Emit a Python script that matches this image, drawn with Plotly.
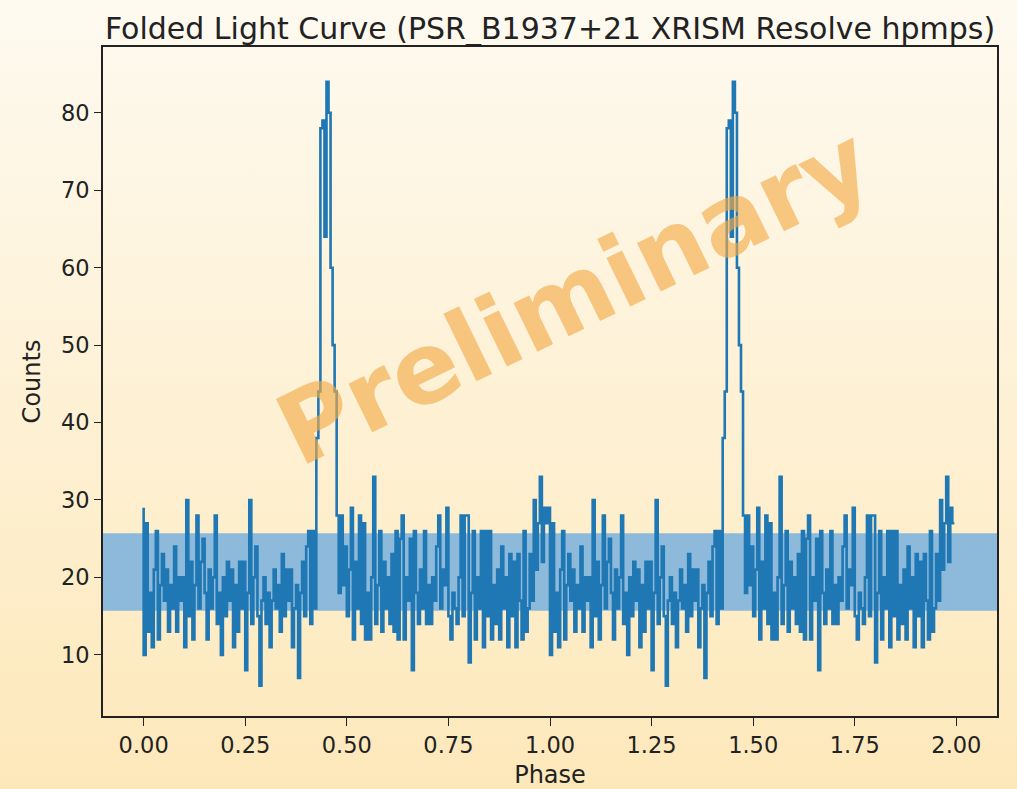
import base64
import numpy as np
import plotly.graph_objects as go

# ---- data (one rotation, 200 phase bins, shown twice) ----
bin_width = 0.005
counts_one_cycle = [
    29, 10, 27, 13, 18, 11, 21, 26, 12, 19,
    23, 17, 21, 13, 19, 16, 24, 13, 20, 17,
    20, 11, 30, 15, 22, 12, 19, 28, 16, 22,
    25, 18, 12, 21, 16, 20, 28, 14, 18, 10,
    20, 15, 22, 17, 21, 11, 19, 13, 22, 16,
    22, 8, 18, 30, 14, 20, 24, 15, 6, 17,
    20, 14, 18, 11, 17, 21, 16, 19, 13, 23,
    15, 21, 17, 21, 11, 16, 19, 7, 18, 22,
    15, 24, 26, 14, 26, 16, 38, 44, 78, 79,
    64, 84, 80, 60, 50, 44, 28, 18, 28, 19,
    24, 15, 21, 29, 12, 22, 16, 28, 14, 27,
    12, 18, 12, 20, 33, 14, 19, 26, 13, 22,
    16, 20, 14, 23, 13, 26, 12, 25, 28, 12,
    20, 17, 25, 8, 26, 18, 14, 21, 16, 26,
    14, 19, 14, 20, 17, 24, 28, 16, 21, 19,
    29, 15, 12, 18, 16, 14, 20, 28, 15, 28,
    28, 9, 18, 26, 12, 20, 16, 26, 11, 26,
    15, 26, 12, 19, 14, 21, 12, 24, 16, 20,
    11, 23, 15, 22, 11, 23, 17, 12, 26, 13,
    16, 23, 17, 30, 21, 27, 33, 22, 29, 27,
]
n_cycles = 2
band_low = 15.7
band_high = 25.7
x_ticks = [0.0, 0.25, 0.5, 0.75, 1.0, 1.25, 1.5, 1.75, 2.0]
y_ticks = [10, 20, 30, 40, 50, 60, 70, 80]
title_text = "Folded Light Curve (PSR_B1937+21 XRISM Resolve hpmps)"

counts = np.array(counts_one_cycle * n_cycles, dtype=float)
phase = np.arange(len(counts)) * bin_width

# ---- gradient background (svg data uri) ----
svg = ('<svg xmlns="http://www.w3.org/2000/svg" width="10" height="100" '
       'viewBox="0 0 10 100" preserveAspectRatio="none">'
       '<defs><linearGradient id="g" x1="0" y1="0" x2="0" y2="1">'
       '<stop offset="0" stop-color="#FEFAF0"/>'
       '<stop offset="1" stop-color="#FDE8BA"/>'
       '</linearGradient></defs>'
       '<rect x="0" y="0" width="10" height="100" fill="url(#g)"/></svg>')
svg_uri = "data:image/svg+xml;base64," + base64.b64encode(svg.encode()).decode()

W, H = 1017, 789
ml, mr, mt, mb = 103, 20, 47, 73
pw, ph = W - ml - mr, H - mt - mb

fig = go.Figure()
fig.add_trace(go.Scatter(
    x=phase, y=counts, mode="lines",
    line=dict(color="#1f77b4", width=2.6, shape="vh"),
    showlegend=False, hoverinfo="skip",
))

fig.add_shape(type="rect", xref="paper", yref="y", x0=0, x1=1,
              y0=band_low, y1=band_high,
              fillcolor="rgb(141,186,218)", line=dict(width=0),
              layer="below")

fig.add_layout_image(dict(
    source=svg_uri, xref="paper", yref="paper",
    x=-ml / pw, y=1 + mt / ph, sizex=W / pw, sizey=H / ph,
    xanchor="left", yanchor="top", sizing="stretch", layer="below",
))

fig.add_annotation(
    text="<b>Preliminary</b>", xref="paper", yref="paper", x=0.527, y=0.628,
    showarrow=False, textangle=-26,
    font=dict(family="DejaVu Sans", size=99, color="rgba(243,170,72,0.64)"),
)

tick_font = dict(family="DejaVu Sans", size=22.5, color="#222222")
label_font = dict(family="DejaVu Sans", size=24, color="#222222")
fig.update_layout(
    width=W, height=H,
    margin=dict(l=ml, r=mr, t=mt, b=mb, pad=0, autoexpand=False),
    paper_bgcolor="rgba(0,0,0,0)", plot_bgcolor="rgba(0,0,0,0)",
    title=dict(text=title_text, x=0.5, xref="paper", xanchor="center",
               y=1 - 28 / H, yref="container", yanchor="middle",
               font=dict(family="DejaVu Sans", size=30, color="#222222")),
    xaxis=dict(range=[-0.1, 2.1], tickvals=x_ticks,
               ticktext=[f"{v:.2f}" for v in x_ticks],
               showgrid=False, zeroline=False, showline=True, mirror=True,
               linecolor="#222222", linewidth=1.6, ticks="outside",
               ticklen=8, tickwidth=1.4, tickcolor="#222222",
               tickfont=tick_font, automargin=False,
               title=dict(text="Phase", font=label_font, standoff=14)),
    yaxis=dict(range=[2.1, 88.5], tickvals=y_ticks,
               showgrid=False, zeroline=False, showline=True, mirror=True,
               linecolor="#222222", linewidth=1.6, ticks="outside",
               ticklen=7, tickwidth=1.4, tickcolor="#222222",
               tickfont=tick_font, automargin=False,
               title=dict(text="Counts", font=label_font, standoff=14)),
)

fig.write_html("out.html")
